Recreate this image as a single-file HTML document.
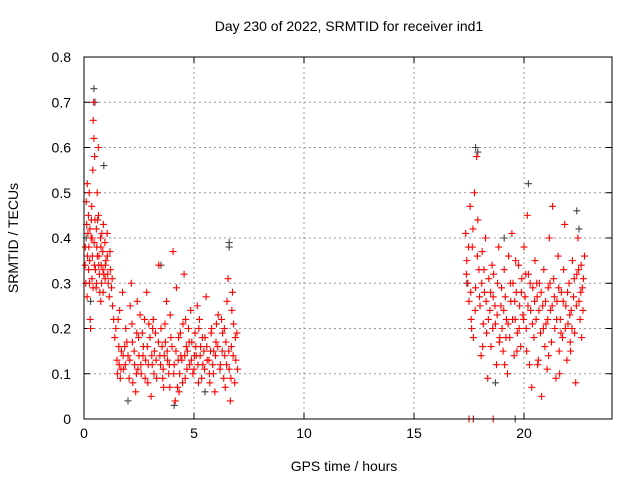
<!DOCTYPE html>
<html><head><meta charset="utf-8"><style>
body{margin:0;background:#fff;}
svg{display:block;font-family:"Liberation Sans",sans-serif;}
</style></head><body>
<svg id="chart" width="640" height="480">
<text x="349" y="31" font-size="14" text-anchor="middle" fill="#000">Day 230 of 2022, SRMTID for receiver ind1</text>
<text x="344" y="471" font-size="14" text-anchor="middle" fill="#000">GPS time / hours</text>
<text transform="translate(18,238) rotate(-90)" font-size="14" text-anchor="middle" fill="#000">SRMTID / TECUs</text>
<g id="grid"></g>
<g id="ticks"></g>
<g id="black"></g>
<g id="red"></g>
<rect x="84" y="57" width="528" height="362" fill="none" stroke="#000" stroke-width="1"/>
</svg>
<script>
const xTicks=[0,5,10,15,20];
const yTicks=[0,0.1,0.2,0.3,0.4,0.5,0.6,0.7,0.8];
const yTickLabels=["0","0.1","0.2","0.3","0.4","0.5","0.6","0.7","0.8"];
const redHours=[0.05,0.1,0.12,0.15,0.2,0.22,0.25,0.28,0.3,0.32,0.35,0.38,0.4,0.42,0.45,0.48,0.5,0.52,0.55,0.58,0.6,0.62,0.65,0.68,0.7,0.72,0.75,0.78,0.8,0.85,0.88,0.9,0.95,1.0,1.05,1.1,1.15,1.2,1.25,1.3,0.18,0.26,0.36,0.46,0.56,0.66,0.76,0.86,0.96,1.06,0.08,0.14,0.24,0.34,0.44,
1.4,1.5,1.55,1.6,1.7,1.75,1.8,1.9,2.0,2.05,2.1,2.2,2.3,2.35,2.4,2.5,2.55,2.6,2.7,2.8,2.85,2.9,3.0,3.1,3.15,3.2,3.3,3.4,3.45,3.5,3.6,3.7,3.75,3.8,3.9,4.0,4.05,4.1,4.15,4.2,4.3,4.35,4.4,4.5,4.55,4.6,4.7,4.8,4.85,4.9,5.0,5.05,5.1,5.2,5.25,5.3,5.4,5.5,5.55,5.6,5.7,5.8,5.9,5.95,6.0,6.1,6.2,6.3,6.35,6.4,6.5,6.55,6.6,6.65,6.7,6.8,6.85,6.9,6.95,1.65,2.15,2.65,3.05,3.55,4.25,4.75,5.15,5.75,6.25,6.75,1.85,2.45,3.25,3.85,4.45,5.35,5.85,6.45,2.75,3.65,4.65,5.45,
17.35,17.4,17.45,17.5,17.55,17.6,17.65,17.7,17.75,17.8,17.85,17.9,17.95,18.0,18.05,18.1,18.15,18.2,18.25,18.3,18.35,18.4,18.45,18.5,18.55,18.6,18.7,18.75,18.8,18.85,18.9,18.95,19.0,19.05,19.1,19.15,19.2,19.25,19.3,19.35,19.4,19.45,19.5,19.55,19.6,19.65,19.7,19.75,19.8,19.85,19.9,19.95,20.0,20.05,20.1,20.15,20.2,20.25,20.3,20.35,20.4,20.45,20.5,20.55,20.6,20.65,20.7,20.75,20.8,20.85,20.9,20.95,21.0,21.05,21.1,21.15,21.2,21.25,21.3,21.35,21.4,21.45,21.5,21.55,21.6,21.65,21.7,21.75,21.8,21.85,21.9,21.95,22.0,22.05,22.1,22.15,22.2,22.25,22.3,22.35,22.4,22.45,22.5,22.55,22.6,22.65,22.7,22.75,17.7,17.5,18.6];
const redValues=[.34,.48,.43,.52,.45,.38,.30,.22,.20,.40,.47,.36,.55,.66,.62,.58,.44,.33,.29,.38,.50,.44,.60,.36,.32,.28,.40,.34,.30,.37,.43,.32,.39,.35,.41,.30,.27,.33,.29,.25,.41,.35,.31,.39,.42,.45,.26,.33,.31,.36,.30,.27,.50,.44,.70,
.18,.13,.22,.12,.15,.28,.11,.20,.14,.09,.25,.17,.12,.06,.19,.14,.23,.10,.16,.13,.28,.08,.18,.12,.22,.15,.09,.34,.14,.20,.11,.17,.26,.13,.07,.16,.37,.12,.04,.29,.18,.10,.14,.21,.32,.09,.15,.12,.24,.17,.11,.19,.14,.08,.22,.16,.12,.18,.27,.13,.10,.20,.15,.06,.17,.23,.12,.19,.09,.14,.26,.31,.11,.04,.16,.21,.08,.13,.19,.09,.30,.19,.05,.16,.07,.20,.25,.15,.22,.28,.16,.11,.19,.10,.13,.09,.12,.17,.22,.14,.16,.15,
.41,.35,.30,.26,.47,.22,.38,.18,.50,.29,.58,.44,.33,.25,.14,.37,.21,.28,.40,.19,.09,.31,.24,.16,.34,.27,.21,.12,.30,.38,.18,.25,.20,.15,.33,.27,.22,.10,.36,.18,.26,.41,.30,.14,.22,.28,.19,.34,.25,.16,.31,.23,.38,.27,.20,.45,.32,.12,.24,.07,.29,.18,.35,.22,.27,.13,.30,.19,.05,.25,.33,.16,.21,.11,.29,.40,.24,.17,.47,.31,.20,.09,.26,.36,.15,.22,.28,.18,.33,.43,.25,.13,.21,.30,.17,.24,.35,.27,.19,.08,.32,.40,.26,.22,.34,.29,.31,.36,0,0,0];
const redHoursExtra=[1.45,1.58,1.68,1.78,1.88,1.95,2.08,2.18,2.28,2.38,2.48,2.58,2.68,2.78,2.88,2.95,3.08,3.18,3.28,3.38,3.48,3.58,3.68,3.78,3.88,3.95,4.08,4.18,4.28,4.38,4.48,4.58,4.68,4.78,4.88,4.95,5.08,5.18,5.28,5.38,5.48,5.58,5.68,5.78,5.88,5.98,6.08,6.18,6.28,6.38,6.48,6.58,6.68,6.78,6.88,6.98,1.52,2.22,2.92,3.62,4.32,5.02,5.72,6.42,1.62,2.42,3.12,3.92,4.62,5.22,6.02,6.72,
17.38,17.48,17.58,17.68,17.78,17.88,17.98,18.08,18.18,18.28,18.38,18.48,18.58,18.68,18.78,18.88,18.98,19.08,19.18,19.28,19.38,19.48,19.58,19.68,19.78,19.88,19.98,20.08,20.18,20.28,20.38,20.48,20.58,20.68,20.78,20.88,20.98,21.08,21.18,21.28,21.38,21.48,21.58,21.68,21.78,21.88,21.98,22.08,22.18,22.28,22.38,22.48,22.58,22.68,17.62,18.12,18.62,19.12,19.62,20.12,20.62,21.12,21.62,22.12,22.62,
0.06,0.16,0.27,0.37,0.47,0.57,0.67,0.77,0.87,0.97,1.08,1.18,1.28,1.35,0.21,0.41,0.61,0.81];
const redValuesExtra=[.20,.16,.11,.14,.12,.17,.13,.21,.15,.10,.18,.12,.14,.09,.16,.21,.14,.10,.13,.17,.12,.09,.21,.15,.12,.18,.10,.15,.13,.19,.08,.14,.11,.17,.13,.10,.16,.12,.14,.18,.11,.16,.13,.19,.10,.14,.16,.11,.15,.20,.12,.15,.09,.14,.18,.11,.10,.08,.12,.07,.06,.14,.08,.07,.24,.26,.20,.23,.22,.20,.21,.24,
.32,.38,.28,.42,.24,.36,.27,.30,.33,.26,.22,.28,.20,.25,.23,.17,.29,.24,.18,.21,.30,.22,.26,.15,.20,.28,.22,.32,.25,.30,.21,.26,.30,.24,.28,.20,.26,.22,.30,.25,.27,.22,.29,.19,.26,.20,.28,.23,.20,.31,.25,.33,.28,.24,.20,.16,.32,.12,.35,.15,.12,.14,.10,.15,.18,
.38,.36,.42,.40,.34,.30,.34,.38,.28,.34,.32,.37,.31,.22,.33,.29,.36,.41];
const blackHours=[0.45,0.5,0.1,0.3,3.5,4.1,6.6,6.6,17.8,17.9,20.2,22.4,22.5,18.7,19.1,17.4,19.6,2.0,5.5,0.9];
const blackValues=[.73,.70,.40,.26,.34,.03,.39,.38,.60,.59,.52,.46,.42,.08,.40,.30,0,.04,.06,.56];
const NS='http://www.w3.org/2000/svg';
const L=84,R=612,T=57,B=419;
const xs=h=>L+h/24*(R-L);
const ys=v=>B-v/0.8*(B-T);
function mk(tag,attrs,parent){const e=document.createElementNS(NS,tag);for(const k in attrs)e.setAttribute(k,attrs[k]);parent.appendChild(e);return e;}
const grid=document.getElementById('grid'),ticks=document.getElementById('ticks');
xTicks.forEach(t=>{
  const x=xs(t);
  if(t>0){const g=mk('line',{x1:x,x2:x,y1:T,y2:B,stroke:'#999','stroke-dasharray':'2,3'},grid);
  
  }
  mk('line',{x1:x,x2:x,y1:B,y2:B-6,stroke:'#000'},ticks);
  mk('line',{x1:x,x2:x,y1:T,y2:T+6,stroke:'#000'},ticks);
  const lb=mk('text',{x:x,y:B+19,'font-size':14,'text-anchor':'middle'},ticks);
  lb.textContent=String(t);
  
  
});
yTicks.forEach((t,i)=>{
  const y=ys(t);
  if(i>0&&i<yTicks.length-1){const g=mk('line',{x1:L,x2:R,y1:y,y2:y,stroke:'#999','stroke-dasharray':'2,3'},grid);
  
  }
  mk('line',{x1:L,x2:L+6,y1:y,y2:y,stroke:'#000'},ticks);
  mk('line',{x1:R,x2:R-6,y1:y,y2:y,stroke:'#000'},ticks);
  const lb=mk('text',{x:71,y:y+5,'font-size':14,'text-anchor':'end'},ticks);
  lb.textContent=yTickLabels[i];
  
  
});
function plus(g,h,v,c,name){
  const x=xs(h),y=ys(v);
  const p=mk('path',{d:`M${x-3.5},${y}h7M${x},${y-3.5}v7`,stroke:c,'stroke-width':1.1,fill:'none'},g);
  
  
}
const bg=document.getElementById('black'),rg=document.getElementById('red');
blackHours.forEach((h,i)=>plus(bg,h,blackValues[i],'#444','black-point'));
redHours.forEach((h,i)=>plus(rg,h,redValues[i],'#f00','red-point'));
redHoursExtra.forEach((h,i)=>plus(rg,h,redValuesExtra[i],'#f00','red-point'));
</script>
</body></html>
